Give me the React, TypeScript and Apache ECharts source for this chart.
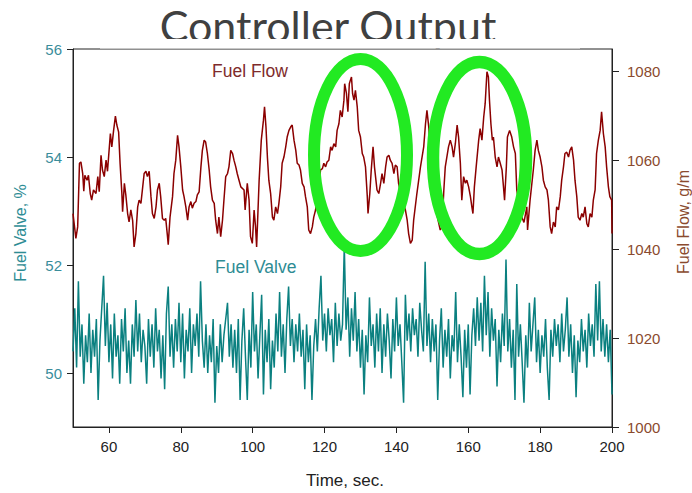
import React, { useEffect, useRef } from "react";
import * as echarts from "echarts";

const TITLE = "Controller Output";
const X_TICKS = [60, 80, 100, 120, 140, 160, 180, 200];
const LEFT_TICKS = [50, 52, 54, 56];
const RIGHT_TICKS = [1000, 1020, 1040, 1060, 1080];

// Fuel Valve, % — sampled every 0.5 s from t = 50 s
const VALVE_START = 50;
const VALVE_STEP = 0.5;
const valveValues = [
  50.4, 51.2, 50.1, 51.7, 50.3, 50.9, 49.8, 50.7, 50.2, 51.1,
  50.0, 50.8, 50.3, 51.0, 49.5, 50.6, 51.2, 51.8, 50.5, 51.3,
  50.2, 50.9, 49.9, 51.1, 50.3, 50.7, 49.8, 51.0, 50.4, 51.2,
  50.0, 50.6, 49.8, 50.9, 50.3, 51.35, 50.4, 51.1, 50.2, 50.8,
  50.5, 49.8, 51.0, 50.3, 50.9, 50.1, 51.2, 50.4, 50.8, 49.9,
  50.7, 49.7, 51.1, 51.6, 50.3, 50.9, 50.1, 51.0, 50.4, 51.3,
  50.2, 51.1, 49.9, 50.8, 50.4, 51.2, 50.0, 50.9, 50.5, 51.1,
  50.3, 51.7, 50.6, 50.1, 50.9, 50.0, 50.7, 50.2, 51.0, 49.45,
  50.5, 50.0, 50.9, 50.2, 50.7, 51.0, 51.3, 50.3, 50.9, 50.1,
  50.8, 50.0, 51.0, 49.5, 50.6, 51.2, 50.3, 49.5, 50.8, 50.1,
  51.5, 50.4, 50.9, 49.9, 50.7, 51.45, 49.6, 50.8, 50.2, 51.0,
  49.7, 50.6, 50.1, 51.1, 50.4, 51.5, 50.3, 50.9, 50.0, 51.0,
  51.6, 50.5, 51.0, 50.2, 50.9, 50.4, 51.1, 50.3, 50.8, 49.7,
  50.9, 50.2, 50.7, 49.5, 50.5, 51.0, 50.4, 51.2, 51.8, 50.6,
  51.1, 50.4, 51.2, 50.7, 51.0, 50.2, 51.3, 50.5, 51.1, 50.6,
  50.9, 52.37, 50.8, 51.4, 50.3, 51.2, 50.6, 51.5, 50.4, 51.0,
  50.1, 50.8, 49.6, 50.7, 50.2, 51.4, 50.5, 50.9, 50.1, 51.1,
  50.4, 51.2, 50.0, 50.9, 50.3, 51.1, 50.6, 49.9, 51.0, 50.4,
  51.4, 50.5, 50.9, 50.2, 49.45, 51.45, 50.6, 51.1, 50.4, 51.2,
  50.7, 51.0, 50.3, 51.3, 50.8, 50.4, 52.06, 50.5, 51.1, 50.2,
  51.0, 50.4, 50.9, 49.5, 50.6, 51.2, 50.1, 50.8, 50.3, 51.0,
  49.9, 50.7, 50.4, 51.5, 50.2, 50.9, 50.3, 49.55, 50.8, 50.1,
  50.9, 49.6, 50.7, 51.2, 50.5, 51.4, 50.6, 51.3, 50.4, 51.8,
  50.7, 51.5, 50.3, 51.2, 50.6, 51.0, 49.75, 50.8, 50.2, 51.1,
  50.5, 52.1, 50.4, 51.0, 50.1, 50.8, 49.5, 51.65, 50.3, 50.9,
  50.2, 49.45, 50.7, 50.1, 51.3, 50.4, 50.9, 51.4, 50.2, 50.8,
  50.0, 50.7, 50.3, 51.0, 50.1, 49.5, 50.8, 50.3, 51.0, 50.5,
  50.9, 50.2, 51.1, 50.4, 50.8, 51.4, 50.3, 50.9, 50.0, 50.7,
  49.55, 50.6, 50.2, 51.0, 50.4, 50.8, 50.1, 51.1, 50.5, 50.9,
  50.3, 51.65, 50.6, 51.7, 50.4, 51.0, 50.3, 50.9, 50.2, 50.8,
  49.6,
];

// Fuel Flow, g/m — time (s) and value
const flowTimes = [
  50.0, 50.8, 51.3, 51.8, 52.2, 52.7, 53.0, 53.3, 53.9, 54.3,
  54.8, 55.2, 55.7, 56.4, 56.9, 57.3, 57.8, 58.2, 58.7, 59.2,
  59.6, 60.4, 60.8, 61.3, 61.8, 62.2, 62.7, 63.1, 63.6, 63.8,
  64.3, 64.7, 65.2, 65.6, 66.1, 66.6, 67.0, 67.5, 68.0, 68.4,
  68.9, 69.4, 69.8, 70.3, 70.7, 71.2, 71.7, 72.1, 72.6, 73.1,
  73.5, 74.0, 74.4, 74.9, 75.4, 75.8, 76.3, 76.5, 77.0, 77.7,
  78.1, 78.6, 79.1, 79.5, 80.0, 80.5, 80.9, 81.4, 81.9, 82.3,
  82.8, 83.2, 83.7, 84.2, 84.6, 85.1, 85.6, 86.0, 86.5, 86.9,
  87.4, 87.9, 88.3, 88.8, 89.3, 89.7, 90.2, 90.6, 91.1, 91.6,
  92.0, 92.5, 93.0, 93.4, 93.9, 94.4, 94.8, 95.3, 95.7, 96.2,
  96.7, 97.6, 97.9, 98.5, 99.0, 99.4, 99.9, 100.4, 100.8, 101.1,
  101.8, 102.4, 103.0, 103.3, 103.7, 104.1, 104.5, 105.0, 105.5, 105.9,
  106.4, 106.9, 107.3, 107.8, 108.2, 108.7, 109.2, 109.6, 110.1, 110.6,
  111.0, 111.5, 112.0, 112.4, 112.9, 113.3, 113.8, 114.3, 114.7, 115.2,
  115.6, 116.1, 116.6, 117.0, 117.5, 118.4, 118.9, 119.4, 119.8, 120.3,
  120.7, 121.2, 121.7, 122.1, 122.6, 123.1, 123.5, 124.0, 124.4, 124.9,
  125.4, 125.6, 126.1, 126.5, 126.9, 127.2, 127.5, 127.8, 128.2, 128.6,
  129.1, 129.5, 130.0, 130.5, 130.9, 131.4, 131.9, 132.1, 132.6, 133.0,
  133.5, 133.9, 134.3, 134.6, 135.1, 135.6, 136.0, 136.5, 137.0, 137.4,
  137.9, 138.3, 138.8, 139.3, 139.7, 140.2, 140.6, 141.5, 142.5, 143.0,
  143.4, 143.9, 144.4, 144.8, 145.7, 146.7, 147.6, 148.1, 148.5, 149.0,
  149.4, 150.3, 151.2, 152.2, 152.7, 153.2, 153.6, 154.5, 155.0, 155.5,
  155.9, 156.4, 156.9, 157.3, 157.8, 158.2, 158.7, 159.2, 159.6, 160.1,
  160.6, 161.0, 161.3, 161.7, 162.2, 162.9, 163.3, 163.8, 164.3, 164.7,
  165.2, 165.6, 165.9, 166.3, 166.7, 167.0, 167.5, 168.0, 168.4, 168.9,
  169.4, 169.8, 170.1, 170.6, 170.9, 171.5, 172.1, 172.6, 173.1, 173.5,
  174.5, 175.5, 176.3, 176.5, 177.2, 178.1, 178.6, 179.1, 179.5, 180.0,
  180.5, 180.9, 181.4, 181.9, 182.3, 182.8, 183.2, 183.7, 184.2, 184.6,
  185.1, 185.6, 186.0, 186.5, 186.9, 187.4, 187.9, 188.3, 188.8, 189.3,
  189.7, 190.2, 190.6, 191.1, 191.6, 192.0, 192.5, 193.0, 193.4, 193.9,
  194.4, 194.8, 195.3, 195.7, 196.2, 196.7, 197.1, 197.6, 198.1, 198.5,
  199.0, 199.4, 199.9, 200.0,
];
const flowValues = [
  1048.0, 1042.4, 1045.0, 1059.3, 1059.6, 1057.0, 1053.0, 1056.6, 1055.5, 1056.6,
  1052.5, 1051.0, 1053.3, 1052.5, 1056.3, 1052.9, 1061.1, 1057.8, 1056.3, 1060.0,
  1057.5, 1066.0, 1063.0, 1066.7, 1069.9, 1067.9, 1066.3, 1059.3, 1052.5, 1048.4,
  1054.8, 1052.2, 1048.0, 1046.1, 1048.8, 1046.4, 1040.5, 1043.5, 1049.5, 1051.0,
  1050.3, 1054.0, 1057.0, 1057.5, 1056.3, 1057.5, 1051.8, 1048.0, 1046.9, 1049.5,
  1053.3, 1054.8, 1051.8, 1046.9, 1046.5, 1046.9, 1042.8, 1041.0, 1047.2, 1051.8,
  1057.0, 1060.0, 1065.6, 1063.0, 1058.5, 1053.3, 1051.8, 1049.5, 1046.5, 1049.5,
  1050.7, 1049.2, 1050.3, 1050.7, 1052.2, 1052.9, 1058.5, 1062.2, 1064.5, 1064.1,
  1061.5, 1057.8, 1054.0, 1051.0, 1050.3, 1046.5, 1043.5, 1047.2, 1042.8, 1046.5,
  1051.0, 1056.3, 1057.0, 1058.5, 1062.2, 1061.5, 1060.0, 1058.5, 1057.0, 1055.5,
  1054.0, 1053.3, 1048.8, 1054.8, 1051.0, 1042.8, 1041.3, 1048.8, 1045.0, 1040.5,
  1055.5, 1064.5, 1069.0, 1072.0, 1067.5, 1060.7, 1055.5, 1052.5, 1047.2, 1046.5,
  1049.5, 1048.0, 1050.3, 1054.0, 1059.3, 1060.7, 1063.0, 1065.2, 1066.7, 1067.5,
  1067.9, 1064.5, 1062.2, 1059.3, 1058.9, 1057.8, 1054.8, 1054.0, 1051.8, 1049.5,
  1044.3, 1043.5, 1045.0, 1047.2, 1048.8, 1054.8, 1057.8, 1058.1, 1059.3, 1058.5,
  1059.6, 1060.0, 1063.0, 1062.2, 1063.7, 1063.0, 1066.7, 1068.2, 1071.2, 1069.7,
  1073.5, 1077.2, 1075.0, 1070.9, 1077.2, 1078.0, 1078.7, 1075.0, 1073.5, 1075.7,
  1072.0, 1066.7, 1065.2, 1061.5, 1060.7, 1058.5, 1051.8, 1048.0, 1052.5, 1057.8,
  1063.0, 1058.5, 1055.5, 1053.3, 1052.5, 1054.8, 1057.0, 1054.8, 1058.5, 1060.7,
  1061.1, 1060.0, 1059.3, 1057.0, 1058.9, 1058.5, 1054.8, 1051.5, 1048.8, 1046.5,
  1043.5, 1041.3, 1042.0, 1046.5, 1052.5, 1058.5, 1063.0, 1068.2, 1071.2, 1067.5,
  1062.2, 1055.0, 1048.0, 1044.3, 1045.0, 1053.3, 1058.5, 1063.0, 1064.5, 1063.0,
  1060.7, 1063.7, 1067.9, 1065.2, 1059.3, 1051.0, 1056.3, 1054.8, 1055.5, 1054.0,
  1051.8, 1049.5, 1048.0, 1054.0, 1058.5, 1064.5, 1067.1, 1064.5, 1069.7, 1072.7,
  1079.9, 1078.7, 1073.5, 1068.2, 1064.5, 1065.2, 1060.7, 1058.5, 1060.7, 1059.3,
  1057.8, 1054.0, 1051.0, 1058.5, 1065.2, 1066.7, 1065.2, 1063.0, 1061.5, 1053.3,
  1048.0, 1046.0, 1049.5, 1044.3, 1051.0, 1057.8, 1062.2, 1064.5, 1062.2, 1060.7,
  1058.5, 1055.5, 1054.0, 1053.3, 1051.0, 1045.0, 1043.5, 1046.1, 1045.0, 1049.5,
  1048.8, 1051.8, 1055.5, 1058.5, 1061.5, 1061.8, 1060.7, 1062.2, 1063.0, 1060.0,
  1055.5, 1051.8, 1047.2, 1046.5, 1048.0, 1047.2, 1049.5, 1045.7, 1045.0, 1048.0,
  1047.2, 1051.0, 1053.3, 1061.5, 1064.5, 1066.7, 1070.9, 1066.0, 1063.0, 1058.5,
  1054.0, 1051.8, 1051.0, 1043.5,
];

const FONT = "'Liberation Sans', Arial, sans-serif";
const TEAL = "#0b8080";
const TEAL_TEXT = "#3a8d9b";
const RED = "#8b0000";
const BROWN_TEXT = "#8a4a2e";
const GREEN = "#22ea22";

export default function App() {
  const ref = useRef<HTMLDivElement>(null);

  useEffect(() => {
    if (!ref.current) return;
    const chart = echarts.init(ref.current, null, { renderer: "svg" });

    const valveData = valveValues.map((v, i) => [VALVE_START + i * VALVE_STEP, v]);
    const flowData = flowTimes.map((t, i) => [t, flowValues[i]]);

    const axisLine = { show: true, lineStyle: { color: "#222", width: 1 } };
    const plain = (v: number) => String(v);

    chart.setOption({
      animation: false,
      backgroundColor: "#ffffff",
      grid: {
        left: 73,
        right: 80,
        top: 49,
        bottom: 66,
        show: true,
        borderColor: "#222",
        borderWidth: 1,
        backgroundColor: "transparent",
      },
      xAxis: {
        type: "value",
        min: 50,
        max: 200,
        axisLine,
        axisTick: { show: true, inside: false, length: 6, customValues: X_TICKS, lineStyle: { color: "#222" } },
        axisLabel: { customValues: X_TICKS, formatter: plain, color: "#222", fontSize: 15, fontFamily: FONT, margin: 12 },
        splitLine: { show: false },
      },
      yAxis: [
        {
          type: "value",
          min: 49,
          max: 56,
          position: "left",
          axisLine,
          axisTick: { show: true, length: 6, customValues: LEFT_TICKS, lineStyle: { color: "#222" } },
          axisLabel: { customValues: LEFT_TICKS, formatter: plain, color: TEAL_TEXT, fontSize: 15, fontFamily: FONT, margin: 11 },
          splitLine: { show: false },
        },
        {
          type: "value",
          min: 1000,
          max: 1085,
          position: "right",
          axisLine,
          axisTick: { show: true, length: 7, customValues: RIGHT_TICKS, lineStyle: { color: "#222" } },
          axisLabel: { customValues: RIGHT_TICKS, formatter: plain, color: BROWN_TEXT, fontSize: 15, fontFamily: FONT, margin: 15 },
          splitLine: { show: false },
        },
      ],
      series: [
        {
          name: "Fuel Valve",
          type: "line",
          yAxisIndex: 0,
          data: valveData,
          showSymbol: false,
          lineStyle: { color: TEAL, width: 1.5 },
          z: 2,
        },
        {
          name: "Fuel Flow",
          type: "line",
          yAxisIndex: 1,
          data: flowData,
          showSymbol: false,
          lineStyle: { color: RED, width: 1.5 },
          z: 3,
        },
      ],
      graphic: [
        {
          type: "text",
          x: 328,
          y: 25,
          z: 1,
          style: { text: TITLE, fontSize: 43, fontFamily: "Lato, 'Open Sans', sans-serif", fill: "#404040", align: "center", verticalAlign: "middle" },
        },
        {
          type: "rect",
          z: 2,
          shape: { x: 100, y: 39, width: 480, height: 9.5 },
          style: { fill: "#ffffff" },
        },
        {
          type: "text",
          x: 212,
          y: 71,
          z: 20,
          style: { text: "Fuel Flow", fontSize: 17.5, fontFamily: FONT, fill: "#7e2b2b", align: "left", verticalAlign: "middle" },
        },
        {
          type: "text",
          x: 215,
          y: 267,
          z: 20,
          style: { text: "Fuel Valve", fontSize: 17.5, fontFamily: FONT, fill: "#2e8c94", align: "left", verticalAlign: "middle" },
        },
        {
          type: "text",
          x: 20,
          y: 233,
          rotation: Math.PI / 2,
          z: 20,
          style: { text: "Fuel Valve, %", fontSize: 16, fontFamily: FONT, fill: "#2e8c94", align: "center", verticalAlign: "middle" },
        },
        {
          type: "text",
          x: 683,
          y: 222,
          rotation: Math.PI / 2,
          z: 20,
          style: { text: "Fuel Flow, g/m", fontSize: 16, fontFamily: FONT, fill: BROWN_TEXT, align: "center", verticalAlign: "middle" },
        },
        {
          type: "text",
          x: 345,
          y: 480,
          z: 20,
          style: { text: "Time, sec.", fontSize: 17, fontFamily: FONT, fill: "#222", align: "center", verticalAlign: "middle" },
        },
        {
          type: "ellipse",
          z: 30,
          shape: { cx: 360.5, cy: 155, rx: 46.5, ry: 96 },
          style: { fill: "transparent", stroke: GREEN, lineWidth: 12 },
        },
        {
          type: "ellipse",
          z: 30,
          shape: { cx: 479.5, cy: 158, rx: 46.5, ry: 96 },
          style: { fill: "transparent", stroke: GREEN, lineWidth: 12.5 },
        },
      ],
    });

    return () => chart.dispose();
  }, []);

  return <div ref={ref} style={{ position: "absolute", left: 0, top: 0, width: 692, height: 493 }} />;
}
